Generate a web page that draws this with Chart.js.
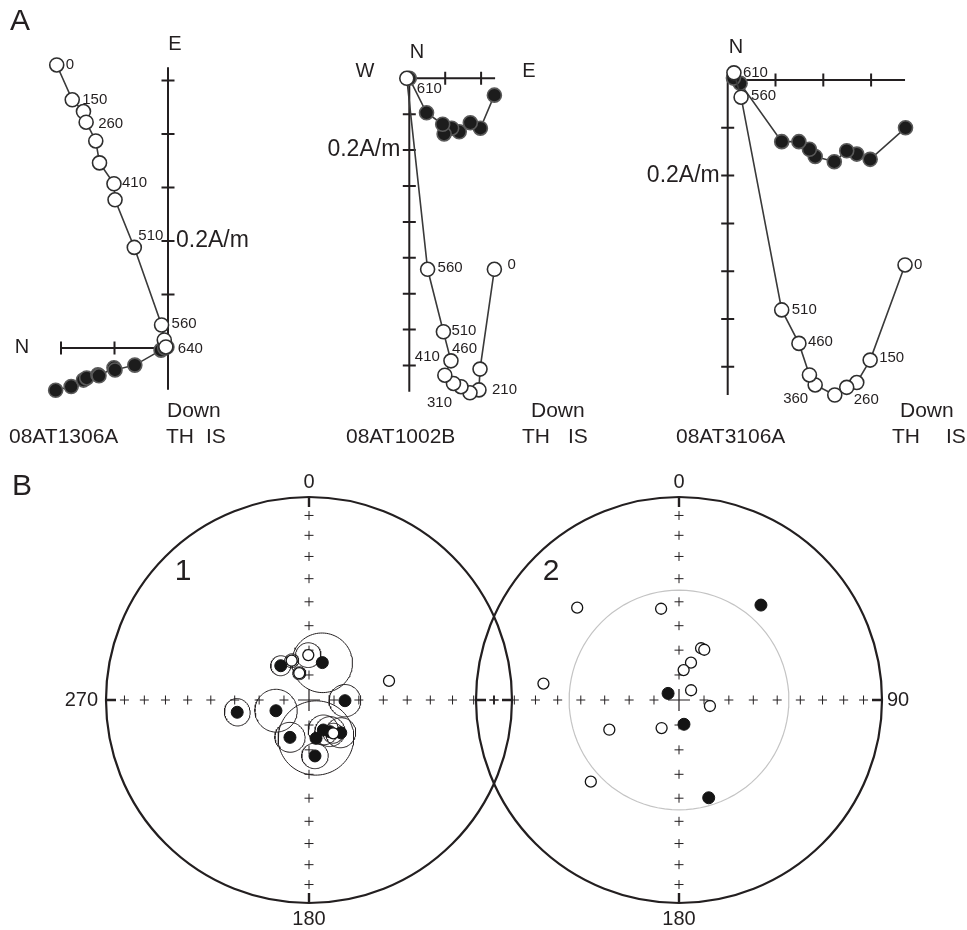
<!DOCTYPE html>
<html>
<head>
<meta charset="utf-8">
<title>Demagnetisation diagrams and stereonets</title>
<script src="https://cdn.jsdelivr.net/npm/chart.js@4.4.1/dist/chart.umd.min.js"></script>
<style>
  html, body { margin: 0; padding: 0; background: #ffffff; }
  #figure { position: relative; width: 967px; height: 930px; overflow: hidden; background: #ffffff; }
  #figure canvas { position: absolute; left: 0; top: 0; }
</style>
</head>
<body>
<div id="figure"></div>
<script>
// ===== A: orthogonal vector end-point diagrams (components in A/m) =====
// "Hor" = horizontal-plane projection (filled), "Ver" = vertical-plane projection (open)

// 08AT1306A
const s1306Steps = [0, 150, 210, 260, 310, 360, 410, 460, 510, 560, 610, 640];
const s1306HorX = [-0.210, -0.181, -0.158, -0.152, -0.131, -0.129, -0.101, -0.099, -0.062, -0.013, -0.006, -0.002];
const s1306HorY = [-0.079, -0.072, -0.060, -0.056, -0.050, -0.052, -0.037, -0.041, -0.032, -0.004, 0.000, 0.002];
const s1306VerX = [-0.208, -0.179, -0.158, -0.153, -0.135, -0.128, -0.101, -0.099, -0.063, -0.012, -0.007, -0.004];
const s1306VerY = [0.529, 0.464, 0.442, 0.422, 0.387, 0.346, 0.307, 0.277, 0.188, 0.043, 0.015, 0.002];

// 08AT1002B
const s1002Steps = [0, 150, 210, 260, 310, 360, 410, 460, 510, 560, 610];
const s1002HorX = [0.237, 0.198, 0.170, 0.139, 0.118, 0.097, 0.093, 0.048, 0.000];
const s1002HorY = [-0.047, -0.139, -0.124, -0.149, -0.139, -0.155, -0.128, -0.096, 0.000];
const s1002VerX = [0.237, 0.197, 0.194, 0.169, 0.144, 0.123, 0.099, 0.116, 0.095, 0.051, -0.007];
const s1002VerY = [-0.532, -0.810, -0.868, -0.876, -0.859, -0.850, -0.827, -0.787, -0.706, -0.532, 0.000];

// 08AT3106A
const s3106Steps = [0, 150, 210, 260, 310, 360, 410, 460, 510, 560, 610];
const s3106HorX = [0.372, 0.298, 0.270, 0.249, 0.223, 0.183, 0.171, 0.149, 0.113, 0.026, 0.012];
const s3106HorY = [-0.100, -0.166, -0.155, -0.148, -0.171, -0.160, -0.145, -0.129, -0.129, -0.007, 0.004];
const s3106VerX = [0.371, 0.298, 0.270, 0.249, 0.224, 0.183, 0.171, 0.149, 0.113, 0.028, 0.013];
const s3106VerY = [-0.387, -0.586, -0.633, -0.643, -0.659, -0.638, -0.617, -0.551, -0.481, -0.036, 0.015];

// ===== B: equal-area stereonets (declination, inclination in degrees; inc < 0 = upper hemisphere) =====
// 1: directions with alpha95 (degrees, 0 = not drawn)
const net1Dec  = [320.5, 19.6, 91.1, 252.0, 260.3, 207.0, 169.6, 154.5, 146.5, 135.9, 173.9, 359.1, 336.2, 340.0, 76.6, 143.9];
const net1Inc  = [72.2, 74.1, 75.6, 76.1, 60.6, 73.2, 74.4, 76.7, 74.8, 71.7, 67.4, -72.0, -72.8, -78.6, -56.7, -73.5];
const net1A95  = [4.0, 12.0, 6.4, 8.5, 5.3, 6.0, 15.0, 6.0, 6.0, 6.0, 5.2, 5.0, 2.8, 2.6, 0, 4.0];
// 2: individual directions
const net2Dec  = [40.8, 301.2, 168.4, 163.1, 312.2, 348.9, 23.1, 26.7, 17.8, 8.8, 51.1, 101.0, 276.9, 246.9, 211.8, 227.2];
const net2Inc  = [38.2, 84.9, 80.1, 48.3, -32.8, -52.2, -67.4, -67.4, -74.3, -77.9, -83.8, -77.4, -33.2, -59.4, -76.8, -40.5];
const net2RefInc = 45;   // small circle of constant inclination

// ---------------------------------------------------------------------------
const PAGE_W = 967, PAGE_H = 930;
const INK = '#231f20';
const LINE = '#3a3a3a';
const FONT = '"Liberation Sans", Arial, Helvetica, sans-serif';
const D2R = Math.PI / 180;

function addCanvas() {
  const c = document.createElement('canvas');
  c.width = PAGE_W; c.height = PAGE_H;
  c.style.width = PAGE_W + 'px'; c.style.height = PAGE_H + 'px';
  document.getElementById('figure').appendChild(c);
  return c;
}

// linear x/y scales with equal pixel size per unit, origin placed at a given page point
function frame(origin, pxPerUnit) {
  return {
    x: { type: 'linear', display: false, min: -origin[0] / pxPerUnit, max: (PAGE_W - origin[0]) / pxPerUnit },
    y: { type: 'linear', display: false, min: -(PAGE_H - origin[1]) / pxPerUnit, max: origin[1] / pxPerUnit }
  };
}

function drawText(ctx, str, x, y, size, align) {
  ctx.font = size + 'px ' + FONT;
  ctx.fillStyle = INK;
  ctx.textAlign = align || 'left';
  ctx.textBaseline = 'middle';
  ctx.fillText(str, x, y);
}

function zip(xs, ys) { return xs.map((x, i) => ({ x: x, y: ys[i] })); }

const baseOptions = {
  responsive: false,
  animation: false,
  devicePixelRatio: 1,
  events: [],
  layout: { padding: 0, autoPadding: false }
};

// ---------- orthogonal-plot axes, scale bar and step labels ----------
const zPlotPlugin = {
  id: 'zPlot',
  beforeDatasetsDraw(chart, args, o) {
    const ctx = chart.ctx;
    const X = v => chart.scales.x.getPixelForValue(v);
    const Y = v => chart.scales.y.getPixelForValue(v);
    ctx.save();
    ctx.strokeStyle = INK;
    ctx.lineWidth = 2;
    ctx.beginPath();
    ctx.moveTo(X(o.hAxis[0]), Y(0)); ctx.lineTo(X(o.hAxis[1]), Y(0));
    ctx.moveTo(X(0), Y(o.vAxis[0])); ctx.lineTo(X(0), Y(o.vAxis[1]));
    const t = o.tick, half = 6.5;
    for (let i = Math.ceil(o.hAxis[0] / t - 1e-6); i <= Math.floor(o.hAxis[1] / t + 1e-6); i++) {
      if (i === 0) continue;
      ctx.moveTo(X(i * t), Y(0) - half); ctx.lineTo(X(i * t), Y(0) + half);
    }
    for (let i = Math.ceil(o.vAxis[0] / t - 1e-6); i <= Math.floor(o.vAxis[1] / t + 1e-6); i++) {
      if (i === 0) continue;
      ctx.moveTo(X(0) - half, Y(i * t)); ctx.lineTo(X(0) + half, Y(i * t));
    }
    ctx.stroke();
    ctx.restore();
  },
  afterDatasetsDraw(chart, args, o) {
    const ctx = chart.ctx;
    const X = v => chart.scales.x.getPixelForValue(v);
    const Y = v => chart.scales.y.getPixelForValue(v);
    ctx.save();
    const meta = chart.getDatasetMeta(0);
    o.steps.forEach((s, i) => {
      const off = o.stepLabels[s];
      if (!off || !meta.data[i]) return;
      const p = meta.data[i];
      drawText(ctx, String(s), p.x + off[0], p.y + off[1], 15, 'left');
    });
    // scale bar label at the 0.2 A/m tick
    const sb = o.scaleBar;
    if (sb.side === 'right') drawText(ctx, '0.2A/m', X(0) + 8, Y(sb.value), 23, 'left');
    else drawText(ctx, '0.2A/m', X(0) + sb.gap, Y(sb.value), 23, 'right');
    o.texts.forEach(tx => drawText(ctx, tx.s, tx.x, tx.y, tx.size, tx.align));
    ctx.restore();
  }
};

function openSeries(xs, ys) {
  return {
    data: zip(xs, ys), showLine: true, tension: 0,
    borderColor: LINE, borderWidth: 1.6,
    pointRadius: 7, pointBackgroundColor: '#ffffff',
    pointBorderColor: '#2e2e2e', pointBorderWidth: 1.6
  };
}
function filledSeries(xs, ys) {
  return {
    data: zip(xs, ys), showLine: true, tension: 0,
    borderColor: LINE, borderWidth: 1.6,
    pointRadius: 7, pointBackgroundColor: '#1c1c1c',
    pointBorderColor: '#5a5a5a', pointBorderWidth: 1.6
  };
}

function orthoPlot(cfg) {
  return new Chart(addCanvas(), {
    type: 'scatter',
    data: { datasets: [openSeries(cfg.verX, cfg.verY), filledSeries(cfg.horX, cfg.horY)] },
    options: Object.assign({}, baseOptions, {
      scales: frame(cfg.origin, cfg.pxPerUnit),
      plugins: {
        legend: { display: false },
        tooltip: { enabled: false },
        zPlot: {
          hAxis: cfg.hAxis, vAxis: cfg.vAxis, tick: 0.1,
          steps: cfg.steps, stepLabels: cfg.stepLabels,
          scaleBar: cfg.scaleBar, texts: cfg.texts
        }
      }
    }),
    plugins: [zPlotPlugin]
  });
}

orthoPlot({
  origin: [168, 348], pxPerUnit: 535,
  hAxis: [-0.2, 0], vAxis: [-0.078, 0.525],
  steps: s1306Steps, horX: s1306HorX, horY: s1306HorY, verX: s1306VerX, verY: s1306VerY,
  stepLabels: { 0: [9, 0], 150: [10, 0], 260: [12, 2], 410: [8, -1], 510: [4, -12], 560: [10, -1], 640: [12, 2] },
  scaleBar: { value: 0.2, side: 'right' },
  texts: [
    { s: 'A', x: 10, y: 22, size: 30, align: 'left' },
    { s: 'E', x: 175, y: 44, size: 20, align: 'center' },
    { s: 'N', x: 22, y: 347, size: 20, align: 'center' },
    { s: 'Down', x: 167, y: 411, size: 21, align: 'left' },
    { s: '08AT1306A', x: 9, y: 437, size: 21, align: 'left' },
    { s: 'TH', x: 166, y: 437, size: 21, align: 'left' },
    { s: 'IS', x: 206, y: 437, size: 21, align: 'left' }
  ]
});

orthoPlot({
  origin: [409.3, 78.3], pxPerUnit: 359,
  hAxis: [0, 0.239], vAxis: [-0.873, 0],
  steps: s1002Steps, horX: s1002HorX, horY: s1002HorY, verX: s1002VerX, verY: s1002VerY,
  stepLabels: { 0: [13, -4], 210: [13, 0], 310: [-34, 16], 410: [-30, -18], 460: [1, -12], 510: [8, -1], 560: [10, -1], 610: [10, 11] },
  scaleBar: { value: -0.2, side: 'left', gap: -9 },
  texts: [
    { s: 'N', x: 417, y: 52, size: 20, align: 'center' },
    { s: 'W', x: 365, y: 71, size: 20, align: 'center' },
    { s: 'E', x: 529, y: 71, size: 20, align: 'center' },
    { s: 'Down', x: 531, y: 411, size: 21, align: 'left' },
    { s: '08AT1002B', x: 346, y: 437, size: 21, align: 'left' },
    { s: 'TH', x: 522, y: 437, size: 21, align: 'left' },
    { s: 'IS', x: 568, y: 437, size: 21, align: 'left' }
  ]
});

orthoPlot({
  origin: [727.7, 80], pxPerUnit: 478,
  hAxis: [0, 0.371], vAxis: [-0.659, 0],
  steps: s3106Steps, horX: s3106HorX, horY: s3106HorY, verX: s3106VerX, verY: s3106VerY,
  stepLabels: { 0: [9, 0], 150: [9, -2], 260: [7, 13], 360: [-32, 14], 460: [9, -2], 510: [10, 0], 560: [10, -1], 610: [9, 0] },
  scaleBar: { value: -0.2, side: 'left', gap: -8 },
  texts: [
    { s: 'N', x: 736, y: 47, size: 20, align: 'center' },
    { s: 'Down', x: 900, y: 411, size: 21, align: 'left' },
    { s: '08AT3106A', x: 676, y: 437, size: 21, align: 'left' },
    { s: 'TH', x: 892, y: 437, size: 21, align: 'left' },
    { s: 'IS', x: 946, y: 437, size: 21, align: 'left' }
  ]
});

// ---------- equal-area projection helpers ----------
function projectVector(n, e, d) {
  const h = Math.sqrt(n * n + e * e) || 1e-12;
  const r = Math.sqrt(Math.max(0, 1 - Math.abs(d)));
  return { x: r * e / h, y: r * n / h };
}
function projectDir(dec, inc) {
  const i = inc * D2R, dd = dec * D2R;
  return projectVector(Math.cos(i) * Math.cos(dd), Math.cos(i) * Math.sin(dd), Math.sin(i));
}
// cone of half-angle a (degrees) about a direction, traced on the projection
function coneTrace(dec, inc, a) {
  const i = inc * D2R, dd = dec * D2R, al = a * D2R;
  const m = [Math.cos(i) * Math.cos(dd), Math.cos(i) * Math.sin(dd), Math.sin(i)];
  const u = [-Math.sin(i) * Math.cos(dd), -Math.sin(i) * Math.sin(dd), Math.cos(i)];
  const v = [-Math.sin(dd), Math.cos(dd), 0];
  const pts = [];
  for (let k = 0; k <= 96; k++) {
    const ph = k / 96 * 2 * Math.PI;
    const p = [0, 1, 2].map(j => Math.cos(al) * m[j] + Math.sin(al) * (Math.cos(ph) * u[j] + Math.sin(ph) * v[j]));
    pts.push(projectVector(p[0], p[1], p[2]));
  }
  return pts;
}

const netPlugin = {
  id: 'net',
  beforeDatasetsDraw(chart, args, o) {
    const ctx = chart.ctx;
    const X = v => chart.scales.x.getPixelForValue(v);
    const Y = v => chart.scales.y.getPixelForValue(v);
    const cx = X(0), cy = Y(0), R = X(1) - cx;
    ctx.save();
    ctx.strokeStyle = INK;
    ctx.lineWidth = 2.2;
    ctx.beginPath();
    ctx.arc(cx, cy, R, 0, 2 * Math.PI);
    ctx.stroke();
    ctx.lineWidth = 2.4;
    ctx.beginPath();
    [[0, 1], [1, 0], [0, -1], [-1, 0]].forEach(([ux, uy]) => {
      ctx.moveTo(cx + ux * R, cy - uy * R);
      ctx.lineTo(cx + ux * (R - 10), cy - uy * (R - 10));
    });
    ctx.stroke();
    // small crosses every 10 degrees of inclination along the axes
    ctx.lineWidth = 1;
    ctx.beginPath();
    const plus = (px, py, a) => {
      ctx.moveTo(px - a, py); ctx.lineTo(px + a, py);
      ctx.moveTo(px, py - a); ctx.lineTo(px, py + a);
    };
    for (let inc = 10; inc < 90; inc += 10) {
      const r = Math.sqrt(1 - Math.sin(inc * D2R));
      [[0, r], [r, 0], [0, -r], [-r, 0]].forEach(([u, w]) => plus(X(u), Y(w), 4.5));
    }
    ctx.stroke();
    ctx.lineWidth = 1.2;
    ctx.beginPath();
    plus(cx, cy, 11);
    ctx.stroke();
    ctx.restore();
  },
  afterDatasetsDraw(chart, args, o) {
    const ctx = chart.ctx;
    const X = v => chart.scales.x.getPixelForValue(v);
    const Y = v => chart.scales.y.getPixelForValue(v);
    const cx = X(0), cy = Y(0), R = X(1) - cx;
    ctx.save();
    drawText(ctx, '0', cx, cy - R - 15, 20, 'center');
    drawText(ctx, '180', cx, cy + R + 16, 20, 'center');
    if (o.west) drawText(ctx, o.west, cx - R - 8, cy, 20, 'right');
    if (o.east) drawText(ctx, o.east, cx + R + 5, cy, 20, 'left');
    o.texts.forEach(tx => drawText(ctx, tx.s, tx.x, tx.y, tx.size, tx.align));
    ctx.restore();
  }
};

function dirPoints(decs, incs, lower) {
  const out = [];
  decs.forEach((d, k) => { if ((incs[k] >= 0) === lower) out.push(projectDir(d, incs[k])); });
  return out;
}
const filledDir = data => ({
  data: data, showLine: false, pointRadius: 6, pointBackgroundColor: '#141414',
  pointBorderColor: '#141414', pointBorderWidth: 1
});
const openDir = data => ({
  data: data, showLine: false, pointRadius: 5.5, pointBackgroundColor: '#ffffff',
  pointBorderColor: '#141414', pointBorderWidth: 1.3
});
const traceSet = (data, color, width) => ({
  data: data, showLine: true, tension: 0, pointRadius: 0,
  borderColor: color, borderWidth: width, fill: false
});

function stereonet(cfg) {
  return new Chart(addCanvas(), {
    type: 'scatter',
    data: { datasets: cfg.datasets },
    options: Object.assign({}, baseOptions, {
      scales: frame(cfg.center, cfg.radius),
      plugins: {
        legend: { display: false },
        tooltip: { enabled: false },
        net: { west: cfg.west, east: cfg.east, texts: cfg.texts }
      }
    }),
    plugins: [netPlugin]
  });
}

// net 1: directions with confidence cones
const net1Sets = [
  openDir(dirPoints(net1Dec, net1Inc, false)),
  filledDir(dirPoints(net1Dec, net1Inc, true))
];
net1Dec.forEach((d, k) => {
  if (net1A95[k] > 0) net1Sets.push(traceSet(coneTrace(d, net1Inc[k], net1A95[k]), INK, 1));
});
stereonet({
  center: [309, 700], radius: 203, west: '270', east: null,
  datasets: net1Sets,
  texts: [
    { s: 'B', x: 12, y: 487, size: 30, align: 'left' },
    { s: '1', x: 183, y: 572, size: 30, align: 'center' }
  ]
});

// net 2: individual directions and a constant-inclination circle
stereonet({
  center: [679, 700], radius: 203, west: null, east: '90',
  datasets: [
    openDir(dirPoints(net2Dec, net2Inc, false)),
    filledDir(dirPoints(net2Dec, net2Inc, true)),
    traceSet(coneTrace(0, 90, 90 - net2RefInc), '#c4c4c4', 1.2)
  ],
  texts: [
    { s: '2', x: 551, y: 572, size: 30, align: 'center' }
  ]
});
</script>
</body>
</html>
